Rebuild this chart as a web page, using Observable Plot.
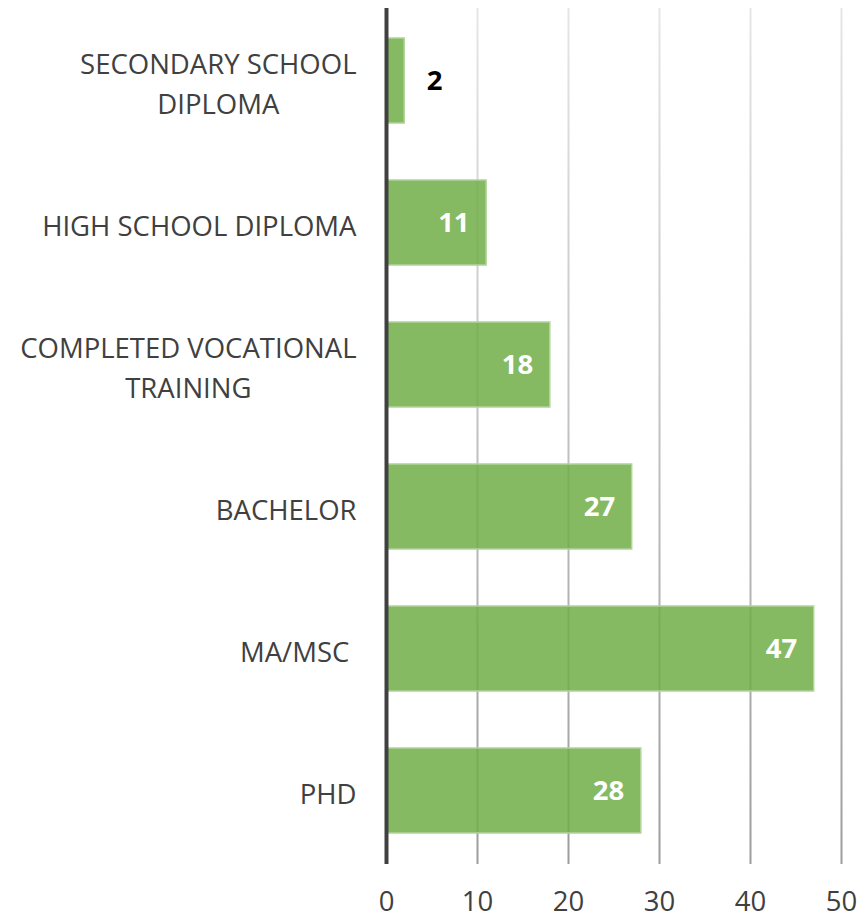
<!DOCTYPE html>
<html>
<head>
<meta charset="utf-8">
<script src="https://cdn.jsdelivr.net/npm/d3@7"></script>
<script src="https://cdn.jsdelivr.net/npm/@observablehq/plot@0.6"></script>
<style>
  html, body { margin: 0; padding: 0; background: #ffffff; }
</style>
</head>
<body>
<div id="chart"></div>
<script>
const categories = [
  "SECONDARY SCHOOL\nDIPLOMA",
  "HIGH SCHOOL DIPLOMA",
  "COMPLETED VOCATIONAL\nTRAINING",
  "BACHELOR",
  "MA/MSC\u00a0",
  "PHD"
];
const values = [2, 11, 18, 27, 47, 28];
const xTicks = [0, 10, 20, 30, 40, 50];

const data = categories.map((c, i) => ({category: c, value: values[i]}));
const FONT = "'Open Sans', sans-serif";
const FS = 27.5;

const plot = Plot.plot({
  width: 861,
  height: 920,
  marginLeft: 386,
  marginRight: 20,
  marginTop: 8,
  marginBottom: 56,
  style: {fontFamily: FONT, fontSize: FS + "px", color: "#404040", background: "#ffffff", overflow: "visible"},
  x: {domain: [0, 50], label: null},
  y: {domain: categories, paddingInner: 0.4, paddingOuter: 0.2, label: null},
  marks: [
    Plot.gridX(xTicks.filter(d => d > 0), {stroke: "url(#gridFade)", strokeOpacity: 1, strokeWidth: 2}),
    Plot.barX(data, {x: "value", y: "category", fill: "#70AD47", fillOpacity: 0.85, stroke: "#B0D49A", strokeWidth: 1.5}),
    Plot.ruleX([0], {stroke: "#404040", strokeWidth: 4}),
    Plot.text(data.filter(d => d.value >= 5), {
      x: "value", y: "category", text: d => String(d.value),
      textAnchor: "end", dx: -17, fill: "#ffffff", fontWeight: "bold", fontSize: FS
    }),
    Plot.text(data.filter(d => d.value < 5), {
      x: "value", y: "category", text: d => String(d.value),
      textAnchor: "start", dx: 22, fill: "#000000", fontWeight: "bold", fontSize: FS
    }),
    Plot.axisX(xTicks, {tickSize: 0, tickPadding: 27, fill: "#404040", fontSize: FS, label: null}),
    Plot.axisY({tickSize: 0, tickPadding: 30, fill: "#404040", fontSize: FS, lineHeight: 1.47, label: null})
  ]
});

document.getElementById("chart").appendChild(plot);

// vertical fading gradient for gridlines
const ns = "http://www.w3.org/2000/svg";
const yr = plot.scale("y").range;
const defs = document.createElementNS(ns, "defs");
const grad = document.createElementNS(ns, "linearGradient");
grad.setAttribute("id", "gridFade");
grad.setAttribute("gradientUnits", "userSpaceOnUse");
grad.setAttribute("x1", 0); grad.setAttribute("x2", 0);
grad.setAttribute("y1", Math.min(...yr)); grad.setAttribute("y2", Math.max(...yr));
[["0%", "#e6e6e6"], ["100%", "#9c9c9c"]].forEach(([o, c]) => {
  const s = document.createElementNS(ns, "stop");
  s.setAttribute("offset", o); s.setAttribute("stop-color", c);
  grad.appendChild(s);
});
defs.appendChild(grad);
plot.insertBefore(defs, plot.firstChild);

// center multi-line category labels within their block (right edge kept)
plot.querySelectorAll('g[aria-label="y-axis tick label"] text').forEach(t => {
  const spans = t.querySelectorAll("tspan");
  if (spans.length > 1) {
    const w = Math.max(...Array.from(spans, s => s.getComputedTextLength()));
    t.setAttribute("text-anchor", "middle");
    spans.forEach(s => s.setAttribute("x", -w / 2));
  }
});
</script>
</body>
</html>
